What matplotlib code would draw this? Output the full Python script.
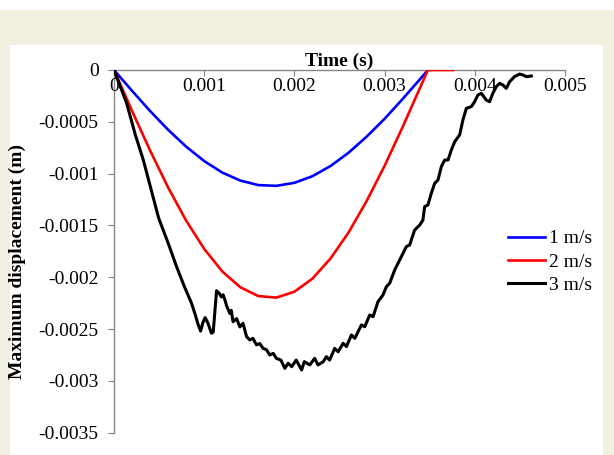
import numpy as np
import matplotlib
matplotlib.use("Agg")
import matplotlib.pyplot as plt
from matplotlib.patches import Rectangle

plt.rcParams['font.family'] = ['Liberation Serif', 'DejaVu Serif']

# time in ms, displacement in mm (converted to s / m below)
t_1ms = [0, 0.2, 0.4, 0.6, 0.8, 1.0, 1.2, 1.4, 1.6, 1.8, 2.0, 2.2, 2.4, 2.6, 2.8, 3.0, 3.2, 3.4, 3.48]
d_1ms = [0, -0.201, -0.396, -0.577, -0.740, -0.879, -0.990, -1.067, -1.111, -1.118, -1.089, -1.025,
         -0.927, -0.799, -0.644, -0.471, -0.280, -0.081, 0]

t_2ms = [0, 0.2, 0.4, 0.6, 0.8, 1.0, 1.2, 1.4, 1.6, 1.8, 2.0, 2.2, 2.4, 2.6, 2.8, 3.0, 3.2, 3.4, 3.48, 3.76]
d_2ms = [0, -0.395, -0.777, -1.134, -1.454, -1.727, -1.944, -2.097, -2.182, -2.197, -2.140, -2.014,
         -1.820, -1.569, -1.266, -0.925, -0.550, -0.158, 0, 0]

t_3ms = [0, 0.14, 0.236, 0.325, 0.495, 0.60, 0.694, 0.78, 0.86, 0.90, 0.93, 0.96, 0.985, 1.01, 1.04,
         1.08, 1.10, 1.137, 1.17, 1.19, 1.21, 1.23, 1.25, 1.285, 1.30, 1.32, 1.36, 1.395, 1.43, 1.47,
         1.506, 1.54, 1.58, 1.615, 1.653, 1.69, 1.727, 1.765, 1.80, 1.85, 1.894, 1.93, 1.97, 2.02,
         2.08, 2.11, 2.17, 2.225, 2.262, 2.32, 2.355, 2.39, 2.447, 2.485, 2.54, 2.577, 2.632, 2.67,
         2.743, 2.78, 2.835, 2.872, 2.927, 2.982, 3.02, 3.056, 3.112, 3.167, 3.241, 3.278, 3.333,
         3.39, 3.425, 3.444, 3.48, 3.518, 3.555, 3.592, 3.629, 3.666, 3.703, 3.740, 3.777, 3.832,
         3.868, 3.906, 3.961, 3.998, 4.035, 4.072, 4.127, 4.164, 4.20, 4.238, 4.275, 4.312, 4.349,
         4.386, 4.44, 4.496, 4.533, 4.57, 4.626]
d_3ms = [0, -0.32, -0.624, -0.869, -1.429, -1.67, -1.899, -2.09, -2.252, -2.36, -2.45, -2.52, -2.44,
         -2.39, -2.44, -2.54, -2.53, -2.13, -2.16, -2.19, -2.17, -2.22, -2.28, -2.35, -2.32, -2.43,
         -2.40, -2.48, -2.445, -2.574, -2.606, -2.59, -2.654, -2.64, -2.687, -2.70, -2.751, -2.735,
         -2.783, -2.80, -2.88, -2.83, -2.864, -2.80, -2.896, -2.815, -2.847, -2.783, -2.847, -2.815,
         -2.767, -2.80, -2.687, -2.72, -2.638, -2.67, -2.558, -2.59, -2.461, -2.478, -2.365, -2.381,
         -2.236, -2.172, -2.091, -2.059, -1.93, -1.834, -1.705, -1.689, -1.544, -1.496, -1.448,
         -1.319, -1.303, -1.19, -1.094, -1.062, -0.933, -0.869, -0.869, -0.772, -0.692, -0.627,
         -0.483, -0.37, -0.354, -0.306, -0.241, -0.225, -0.29, -0.306, -0.225, -0.161, -0.129,
         -0.145, -0.177, -0.113, -0.064, -0.039, -0.048, -0.064, -0.058]

series_labels = ['1 m/s', '2 m/s', '3 m/s']
x_ticks = [0, 0.001, 0.002, 0.003, 0.004, 0.005]
x_tick_labels = ['0', '0.001', '0.002', '0.003', '0.004', '0.005']
y_ticks = [0, -0.0005, -0.001, -0.0015, -0.002, -0.0025, -0.003, -0.0035]
y_tick_labels = ['0', '-0.0005', '-0.001', '-0.0015', '-0.002', '-0.0025', '-0.003', '-0.0035']

W, H = 614, 455
fig = plt.figure(figsize=(W / 100, H / 100), dpi=100, facecolor='white')

# beige frame and white panel behind the chart
fig.patches.append(Rectangle((0, 0), 1, 1 - 10 / H, transform=fig.transFigure,
                             facecolor='#f0efe0', edgecolor='none', zorder=-2))
fig.patches.append(Rectangle((10 / W, 0), 593 / W, 1 - 45 / H, transform=fig.transFigure,
                             facecolor='white', edgecolor='none', zorder=-1))

ax = fig.add_axes([114 / W, 22.4 / H, 451 / W, 362.6 / H])
ax.patch.set_alpha(0)

ax.plot(np.array(t_1ms) * 1e-3, np.array(d_1ms) * 1e-3, color='#0000ff', lw=1.9, label=series_labels[0])
ax.plot(np.array(t_2ms) * 1e-3, np.array(d_2ms) * 1e-3, color='#ff0000', lw=1.9, label=series_labels[1])
ax.plot(np.array(t_3ms) * 1e-3, np.array(d_3ms) * 1e-3, color='black', lw=2.2, label=series_labels[2])

ax.set_xlim(0, 0.005)
ax.set_ylim(-0.0035, 0)
ax.set_xticks(x_ticks)
ax.set_xticklabels(x_tick_labels)
ax.set_yticks(y_ticks)
ax.set_yticklabels(y_tick_labels)

axis_grey = '#868686'
ax.spines['top'].set_visible(False)
ax.spines['right'].set_visible(False)
ax.spines['bottom'].set_position(('data', 0))
for s in ('left', 'bottom'):
    ax.spines[s].set_color(axis_grey)
    ax.spines[s].set_linewidth(1.0)
    ax.spines[s].set_zorder(0)
ax.tick_params(axis='both', direction='out', length=4, color=axis_grey, labelsize=14)
ax.tick_params(axis='x', pad=2)
ax.tick_params(axis='y', pad=7)

ax.set_title('Time (s)', fontsize=14, fontweight='bold', pad=2)
ax.set_ylabel('Maximum displacement (m)', fontsize=14, fontweight='bold')
ax.yaxis.set_label_coords(-0.195, 0.473)

ax.legend(loc='center left', bbox_to_anchor=(508 / W, 1 - 262 / H), bbox_transform=fig.transFigure,
          frameon=False, fontsize=14, handlelength=1.9, handletextpad=0.2, labelspacing=0.3,
          borderpad=0, borderaxespad=0)

fig.savefig('out.png', dpi=100, facecolor=fig.get_facecolor())
